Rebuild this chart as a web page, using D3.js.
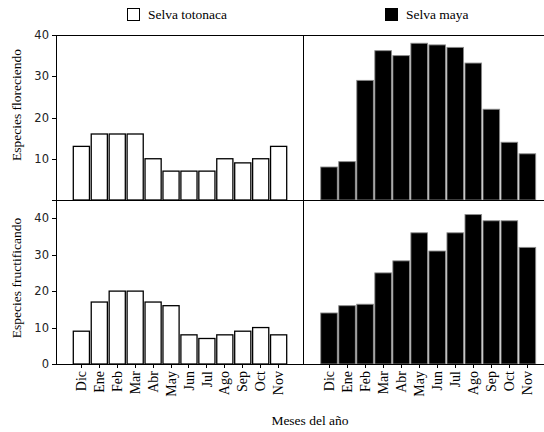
<!DOCTYPE html>
<html>
<head>
<meta charset="utf-8">
<script src="https://cdn.jsdelivr.net/npm/d3@7"></script>
<style>
  html, body { margin: 0; padding: 0; background: #fff; }
  svg { display: block; }
</style>
</head>
<body>
<script>
const months = ["Dic","Ene","Feb","Mar","Abr","May","Jun","Jul","Ago","Sep","Oct","Nov"];
const florTotonaca = [13,16,16,16,10,7,7,7,10,9,10,13];
const florMaya = [8,9.3,29,36.2,35,38,37.6,37,33.2,22,14,11.2];
const frutTotonaca = [9,17,20,20,17,16,8,7,8,9,10,8];
const frutMaya = [14,16,16.4,25,28.3,36,31,36,41,39.3,39.3,32];
const topTicks = [10,20,30,40];
const botTicks = [0,10,20,30,40];
const legendLabels = ["Selva totonaca","Selva maya"];
const yTitles = ["Especies floreciendo","Especies fructificando"];
const xTitle = "Meses del año";

const W = 544, H = 432;
const serif = "'Liberation Serif','Times New Roman',serif";
const sans = "'DejaVu Sans',sans-serif";

const svg = d3.select("body").append("svg").attr("width", W).attr("height", H);
svg.append("rect").attr("width", W).attr("height", H).attr("fill", "#fff");

const yTop = d3.scaleLinear().domain([0,40]).range([200,35]);
const yBot = d3.scaleLinear().domain([0,45]).range([364,200]);
const xLeft = d3.scaleBand().domain(months).range([72.4,287.6]).paddingInner(0.1).paddingOuter(0.05);
const xRight = d3.scaleBand().domain(months).range([320,536.4]).paddingInner(0.08).paddingOuter(0.04);

function bars(data, x, y, fill, stroke, sw) {
  svg.append("g").selectAll("rect").data(data).join("rect")
    .attr("x", (d,i) => x(months[i]))
    .attr("width", x.bandwidth())
    .attr("y", d => y(d))
    .attr("height", d => y(0) - y(d))
    .attr("fill", fill).attr("stroke", stroke).attr("stroke-width", sw);
}
bars(florTotonaca, xLeft, yTop, "#fff", "#000", 1.3);
bars(frutTotonaca, xLeft, yBot, "#fff", "#000", 1.3);
bars(florMaya, xRight, yTop, "#000", "#8a8a8a", 0.9);
bars(frutMaya, xRight, yBot, "#000", "#8a8a8a", 0.9);

// frame lines
const lines = [
  [56,35,544,35],
  [52,200,544,200],
  [56,364,544,364],
  [56,35,56,364],
  [303,35,303,364],
  [300,200,303,200]
];
svg.append("g").selectAll("line").data(lines).join("line")
  .attr("x1", d=>d[0]).attr("y1", d=>d[1]).attr("x2", d=>d[2]).attr("y2", d=>d[3])
  .attr("stroke", "#000").attr("stroke-width", 1).attr("shape-rendering","crispEdges");

function yAxis(scale, ticks) {
  const g = svg.append("g").attr("transform","translate(56,0)")
    .call(d3.axisLeft(scale).tickValues(ticks).tickSize(4).tickSizeOuter(0).tickFormat(d3.format("d")));
  g.select(".domain").remove();
  g.selectAll("line").attr("stroke","#000").attr("shape-rendering","crispEdges");
  g.selectAll("text").attr("font-family", sans).attr("font-size", 11.5).attr("fill","#222").attr("x",-7);
}
yAxis(yTop, topTicks);
yAxis(yBot, botTicks);

function xAxis(scale) {
  const g = svg.append("g").attr("transform","translate(0,364)")
    .call(d3.axisBottom(scale).tickSize(4).tickSizeOuter(0));
  g.select(".domain").remove();
  g.selectAll("line").attr("stroke","#000").attr("shape-rendering","crispEdges");
  g.selectAll("text")
    .attr("font-family", serif).attr("font-size", 14).attr("fill","#000")
    .attr("x", -7).attr("y", 0).attr("dy", "0.33em")
    .attr("transform","rotate(-90)").style("text-anchor","end");
}
xAxis(xLeft);
xAxis(xRight);

// y titles
const yTitlePos = [[21,105],[21,278]];
yTitles.forEach((t,i) => {
  svg.append("text").attr("transform", `translate(${yTitlePos[i][0]},${yTitlePos[i][1]}) rotate(-90)`)
    .attr("text-anchor","middle").attr("font-family", serif).attr("font-size", 13.5).text(t);
});

// x title
svg.append("text").attr("x", 310).attr("y", 425).attr("text-anchor","middle")
  .attr("font-family", serif).attr("font-size", 13.5).text(xTitle);

// legend
const legPos = [[127,148,"#fff"],[385,406,"#000"]];
legendLabels.forEach((t,i) => {
  svg.append("rect").attr("x", legPos[i][0]+0.5).attr("y", 8.5).attr("width", 12).attr("height", 12)
    .attr("fill", legPos[i][2]).attr("stroke","#000").attr("stroke-width",1);
  svg.append("text").attr("x", legPos[i][1]).attr("y", 19).attr("font-family", serif)
    .attr("font-size", 13.5).text(t);
});
</script>
</body>
</html>
